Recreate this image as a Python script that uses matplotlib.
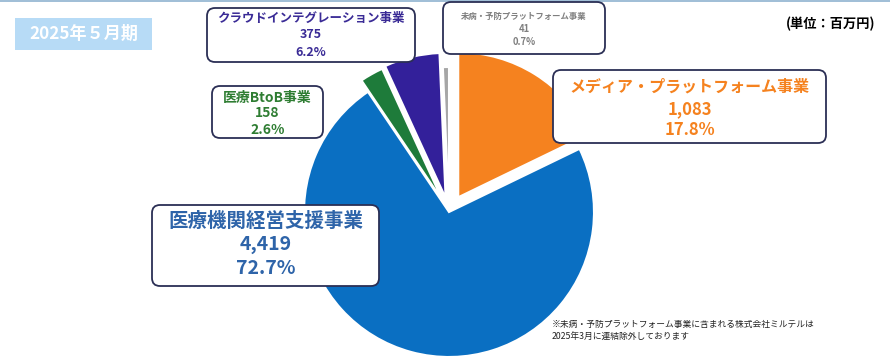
import matplotlib
matplotlib.use("Agg")
import matplotlib.pyplot as plt
from matplotlib.patches import FancyBboxPatch, Rectangle

plt.rcParams['font.family'] = ['Noto Sans CJK JP', 'DejaVu Sans']

# ---- data ----
segments = ["メディア・プラットフォーム事業", "医療機関経営支援事業", "医療BtoB事業",
            "クラウドインテグレーション事業", "未病・予防プラットフォーム事業"]
values = [1083, 4419, 158, 375, 41]
value_labels = ["1,083", "4,419", "158", "375", "41"]
percents = ["17.8%", "72.7%", "2.6%", "6.2%", "0.7%"]
title = "2025年５月期"
unit = "(単位：百万円)"
footnote = ["※未病・予防プラットフォーム事業に含まれる株式会社ミルテルは",
            "2025年3月に連結除外しております"]

colors = ["#f5821f", "#0a6fc2", "#1e7b3a", "#33209a", "#a6a6a6"]
text_colors = ["#f5821f", "#2e64a9", "#2e7d32", "#3a2b96", "#7f7f7f"]
R = 145
# explode in fraction of radius (matplotlib uses data units, so scale by R)
explode_frac = [0.12, 0.0, 0.09, 0.10, 0.0]

W, H = 890, 357
fig = plt.figure(figsize=(W / 100, H / 100), dpi=100)
ax = fig.add_axes([0, 0, 1, 1])

def Y(py):
    return H - py

# pie
ax.pie(values, colors=colors, startangle=90, counterclock=False,
       center=(449, Y(212)), radius=R, explode=[e * R for e in explode_frac],
       wedgeprops=dict(edgecolor='white', linewidth=1.5), frame=True)
ax.set_xlim(0, W)
ax.set_ylim(0, H)
ax.set_aspect('equal')
ax.axis('off')

# top line
ax.plot([0, W], [Y(1), Y(1)], color="#8fb3d0", lw=1.2)

# title box
ax.add_patch(Rectangle((15, Y(50)), 137, 32, facecolor="#b7dbf6", edgecolor='none'))
ax.text(84, Y(34), title, color='white', fontsize=12.3, fontweight='bold',
        ha='center', va='center')

ax.text(875, Y(24), unit, color='black', fontsize=9.5, fontweight='bold',
        ha='right', va='center')

def box(x0, y0, x1, y1, r=8):
    p = FancyBboxPatch((x0 + r, Y(y1) + r), (x1 - x0) - 2 * r, (y1 - y0) - 2 * r,
                       boxstyle=f"round,pad={r}", facecolor='white',
                       edgecolor="#2b2f55", linewidth=1.3, zorder=3)
    ax.add_patch(p)

# label boxes: (x0,y0,x1,y1), line y positions, font sizes
boxes = [
    ((553, 70, 826, 143), (87, 109, 130), (11.5, 12, 12)),
    ((152, 205, 379, 286), (221, 245, 268), (14, 14, 14)),
    ((212, 86, 323, 138), (98, 113, 130), (10, 10, 10)),
    ((207, 8, 415, 62), (18, 35, 53), (9, 9, 9)),
    ((443, 2, 605, 54), (16, 29, 42), (6, 6.8, 6.8)),
]
for i, ((x0, y0, x1, y1), ys, fss) in enumerate(boxes):
    box(x0, y0, x1, y1)
    cx = (x0 + x1) / 2
    lines = [segments[i], value_labels[i], percents[i]]
    for t, yy, fs in zip(lines, ys, fss):
        ax.text(cx, Y(yy), t, color=text_colors[i], fontsize=fs, fontweight='bold',
                ha='center', va='center', zorder=4)

ax.text(552, Y(324), footnote[0], fontsize=6.3, color='#222222', va='center', ha='left')
ax.text(552, Y(336), footnote[1], fontsize=6.3, color='#222222', va='center', ha='left')

fig.savefig("out.png", dpi=100, facecolor='white')
